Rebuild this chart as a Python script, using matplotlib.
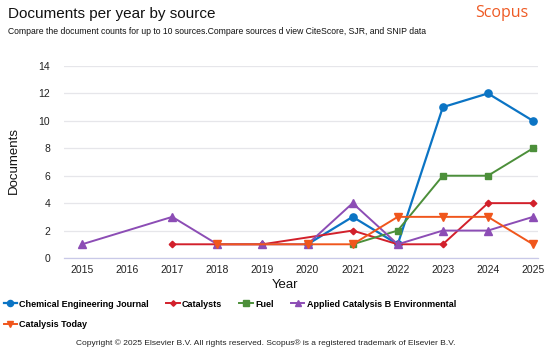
import matplotlib
matplotlib.use("Agg")
import matplotlib.pyplot as plt

plt.rcParams['font.family'] = ['Liberation Sans', 'DejaVu Sans']

# Data
cej_years = [2020, 2021, 2022, 2023, 2024, 2025]
cej_vals = [1, 3, 1, 11, 12, 10]
cat_years = [2017, 2018, 2019, 2021, 2022, 2023, 2024, 2025]
cat_vals = [1, 1, 1, 2, 1, 1, 4, 4]
fuel_years = [2021, 2022, 2023, 2024, 2025]
fuel_vals = [1, 2, 6, 6, 8]
acb_years = [2015, 2017, 2018, 2019, 2020, 2021, 2022, 2023, 2024, 2025]
acb_vals = [1, 3, 1, 1, 1, 4, 1, 2, 2, 3]
ct_years = [2018, 2020, 2021, 2022, 2023, 2024, 2025]
ct_vals = [1, 1, 1, 3, 3, 3, 1]
xticks = list(range(2015, 2026))
yticks = [0, 2, 4, 6, 8, 10, 12, 14]

fig = plt.figure(figsize=(5.5, 3.51), dpi=100)
ax = fig.add_axes([64/550, 1-258/351, 474/550, 192/351])

h_cej, = ax.plot(cej_years, cej_vals, color='#0b74c4', marker='o', ms=5.2, lw=1.6, clip_on=False, zorder=3)
h_cat, = ax.plot(cat_years, cat_vals, color='#d2202b', marker='D', ms=3.3, lw=1.4, clip_on=False, zorder=3)
h_fuel, = ax.plot(fuel_years, fuel_vals, color='#4c8f3a', marker='s', ms=4.8, lw=1.4, clip_on=False, zorder=3)
h_acb, = ax.plot(acb_years, acb_vals, color='#8c4db5', marker='^', ms=5.8, lw=1.4, clip_on=False, zorder=3)
h_ct, = ax.plot(ct_years, ct_vals, color='#f0561c', marker='v', ms=5.8, lw=1.4, clip_on=False, zorder=3)

ax.set_xlim(2014.6, 2025.11)
ax.set_ylim(0, 14)
ax.set_xticks(xticks)
ax.set_yticks(yticks)
ax.tick_params(axis='both', length=0, labelsize=7.5, colors='#222222')
ax.tick_params(axis='x', pad=5)
ax.tick_params(axis='y', pad=10)
ax.grid(axis='y', color='#e6e6ea', lw=0.9)
ax.set_axisbelow(True)
for s in ['top', 'right', 'left']:
    ax.spines[s].set_visible(False)
ax.spines['bottom'].set_color('#c9c9e8')
ax.spines['bottom'].set_linewidth(0.9)

fig.text(14/550, 1-160/351, 'Documents', rotation=90, ha='center', va='center', fontsize=9.5, color='#111111')
fig.text(285/550, 1-285/351, 'Year', ha='center', va='center', fontsize=9.5, color='#111111')

fig.text(8/550, 1-14/351, 'Documents per year by source', ha='left', va='center', fontsize=11, color='#111111')
fig.text(528/550, 1-13/351, 'Scopus', ha='right', va='center', fontsize=11.5, color='#ee5a24', family=['Open Sans', 'DejaVu Sans'])
fig.text(8/550, 1-32/351, 'Compare the document counts for up to 10 sources.Compare sources d view CiteScore, SJR, and SNIP data',
         ha='left', va='center', fontsize=6.2, color='#111111')

handles = [h_cej, h_ct, h_cat, h_fuel, h_acb]
labels = ['Chemical Engineering Journal', 'Catalysis Today', 'Catalysts', 'Fuel', 'Applied Catalysis B Environmental']
leg = fig.legend(handles, labels, ncol=4, loc='upper left', bbox_to_anchor=(0/550, 1-296/351),
                 frameon=False, handlelength=1.5, handletextpad=0.25, columnspacing=1.9,
                 labelspacing=1.25, prop={'size': 6.5, 'weight': 'bold'}, borderaxespad=0, markerscale=0.85)

fig.text(266/550, 1-343/351, 'Copyright © 2025 Elsevier B.V. All rights reserved. Scopus® is a registered trademark of Elsevier B.V.',
         ha='center', va='center', fontsize=6.05, color='#222222')

fig.savefig('out.png', dpi=100)
